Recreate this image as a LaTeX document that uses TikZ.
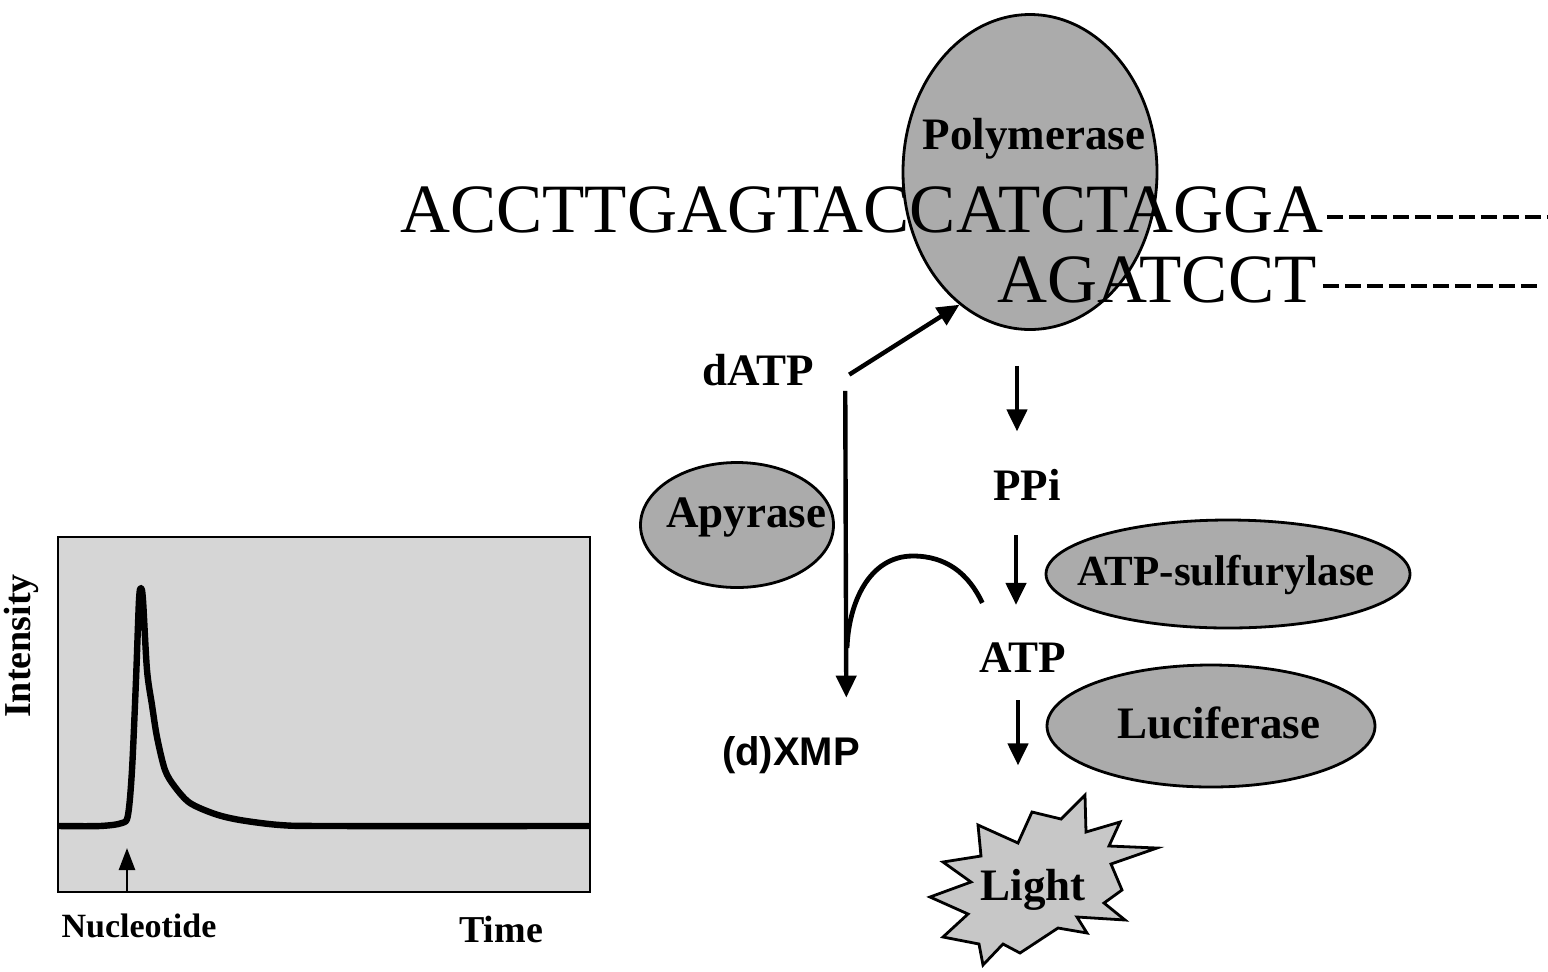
\documentclass[tikz,border=0pt]{standalone}
\usepackage{fontspec}
\setmainfont{Liberation Serif}
\setsansfont{Liberation Sans}
\usetikzlibrary{arrows.meta,shapes.geometric}
\begin{document}
\begin{tikzpicture}[x=0.5pt,y=-0.5pt]
    \tikzset{enzyme/.style={ellipse, draw, line width=1.4pt, fill=black!33, inner sep=0pt}}
    \tikzset{tag/.style={font=\bfseries\fontsize{22.5}{24}\selectfont, inner sep=0pt, anchor=base}}
    \tikzset{bases/.style={font=\fontsize{34.6}{36}\selectfont, inner sep=0pt, anchor=base west}}
    \tikzset{flow/.style={line width=2.2pt, -{Triangle[length=11pt,width=10pt]}}}
    \tikzset{strand/.style={line width=2pt, dash pattern=on 8pt off 3pt}}
    \useasboundingbox (0,0) rectangle (1548,971);
    % signal trace
    \filldraw[fill=black!16, line width=1pt] (58,537) rectangle (590,892);
    \draw[line width=3.2pt, line join=round] plot[smooth, tension=0.5] coordinates {(58,826) (100,826) (122,823) (128,815) (132,770) (136,680) (139,600) (141,588) (143,600) (147,670) (152,705) (157,737) (165,770) (175,787) (190,803) (215,814) (240,820) (280,825) (330,826) (590,826)};
    \node[tag, font=\bfseries\fontsize{19}{21}\selectfont, rotate=90] (inten) at (31,646) {Intensity};
    \node[tag, font=\bfseries\fontsize{17}{19}\selectfont] (nuc) at (139,937) {Nucleotide};
    \node[tag, font=\bfseries\fontsize{19}{21}\selectfont] (time) at (501,942) {Time};
    \draw[line width=1.3pt, -{Triangle[length=11pt,width=8pt]}] ([shift={(-12,-21)}]nuc.north) -- ++(0,-44);
    % enzymes
    \node[enzyme, minimum width=127pt, minimum height=157.5pt] (pol) at (1030,172) {};
    \node[enzyme, minimum width=96.5pt, minimum height=62.5pt] (apy) at (737,525) {};
    \node[enzyme, minimum width=182pt, minimum height=54pt] (sulf) at (1228,574) {};
    \node[enzyme, minimum width=164pt, minimum height=61pt] (luc) at (1211,726) {};
    \node[tag] (poltxt) at (1034,149) {Polymerase};
    \node[tag] (apytxt) at (746,527) {Apyrase};
    \node[tag, font=\bfseries\fontsize{21.5}{23}\selectfont] (sulftxt) at (1226,585) {ATP-sulfurylase};
    \node[tag] (luctxt) at (1219,738) {Luciferase};
    % template and primer
    \node[bases] (top) at (400,232) {ACCTTGAGTACCATCTAGGA};
    \node[bases] (bot) at (997,302) {AGATCCT};
    \coordinate (topend) at (1548,217);
    \coordinate (botend) at (1540,286);
    \draw[strand] ([shift={(3,-15)}]top.base east) -- (topend);
    \draw[strand] ([shift={(6,-16)}]bot.base east) -- (botend);
    % light
    \filldraw[fill=black!22, line width=1.4pt] (1085,795) -- (1086,832) -- (1120,822) -- (1109,846) -- (1157,848) -- (1111,864) -- (1122,890) -- (1104,903) -- (1125,920) -- (1077,917) -- (1087,933) -- (1058,928) -- (1020,953) -- (1003,944) -- (983,965) -- (979,944) -- (943,937) -- (968,914) -- (930,897) -- (971,882) -- (943,862) -- (981,856) -- (978,825) -- (1018,843) -- (1032,812) -- (1061,819) -- cycle;
    \node[tag] (light) at (1033,900) {Light};
    % reactions
    \node[tag] (datp) at (758,385) {dATP};
    \node[tag] (ppi) at (1027,500) {PPi};
    \node[tag] (atp) at (1023,672) {ATP};
    \node[tag, font=\sffamily\bfseries\fontsize{20}{22}\selectfont] (dxmp) at (791,765) {(d)XMP};
    \coordinate (join) at (847,648);
    \draw[flow] ([shift={(35,5)}]datp.east) -- (pol.242);
    \draw[flow] ([shift={(-13,35)}]pol.south) -- ([shift={(-10,-37)}]ppi.north);
    \draw[flow] ([shift={(-11,35)}]ppi.south) -- ([shift={(-7,-37)}]atp.north);
    \draw[flow] ([shift={(-5,28)}]atp.south) -- ([shift={(-15,-103)}]light.north);
    \draw[flow] ([shift={(31,5)}]datp.south east) -- ([shift={(-14,-38)}]dxmp.north east);
    \draw[line width=2.4pt] ([shift={(3,-39)}]atp.north west) to[out=115,in=0] (913,556) to[out=180,in=88] (join);
\end{tikzpicture}
\end{document}
